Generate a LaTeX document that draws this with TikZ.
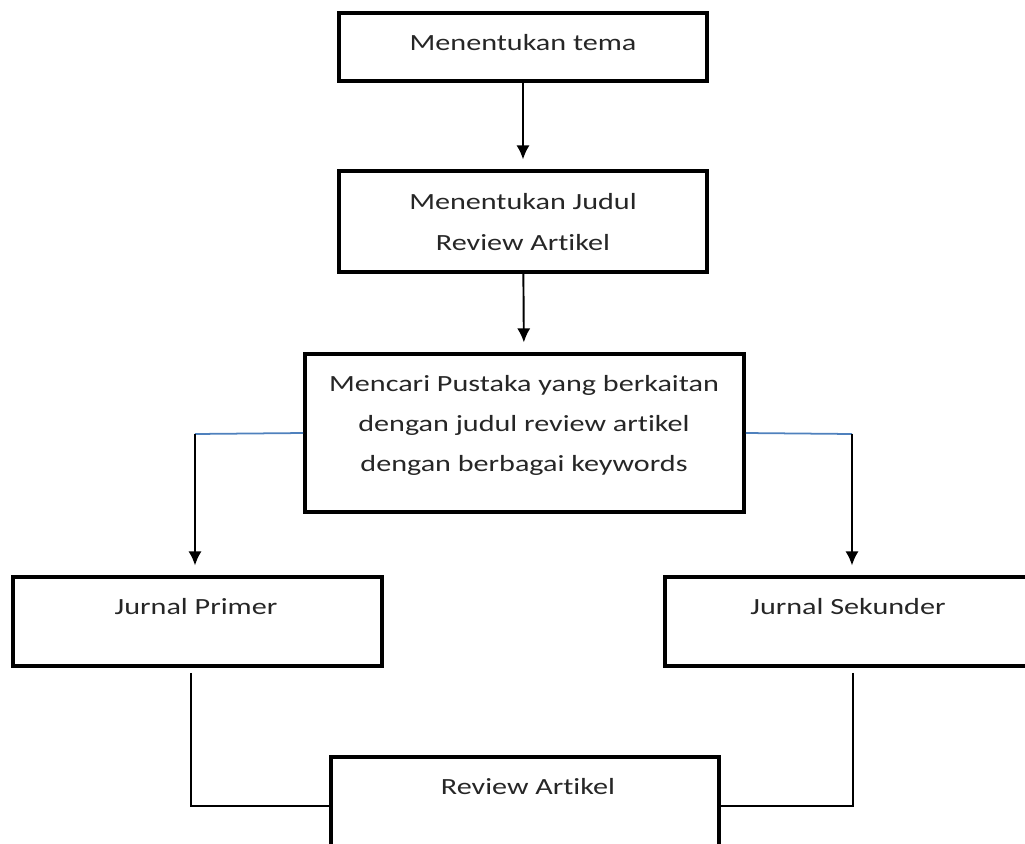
\documentclass[tikz,border=0pt]{standalone}
\usepackage{fontspec}
\setmainfont{Carlito}[FakeStretch=1.3,Ligatures=NoCommon]
\usepackage{xcolor}
\usepackage{tikz}
\usetikzlibrary{positioning, arrows.meta}
\definecolor{linkblue}{RGB}{79,129,189}

\begin{document}
\begin{tikzpicture}
                [
                x=0.02cm, y=-0.02cm,
                box/.style={rectangle,draw,line width=2.2pt,inner sep=0pt},
                boxtext/.style={font=\fontsize{13.2}{22.8}\selectfont,align=center,inner sep=0pt,text=black!85},
                edge/.style={->,line width=1.1pt,> = {Latex[length=8pt,width=7.5pt]},shorten >=5.5pt},
                side/.style={line width=1pt,color=linkblue},
                link/.style={line width=0.8pt}
                ]
            \useasboundingbox (0,0) rectangle (1025,843);
            % kotak
            \node[box,minimum width=7.36cm,minimum height=1.36cm] (tema) at (523,47) {};
            \node[box,minimum width=7.36cm,minimum height=2.02cm] (judul) at (523,221.5) {};
            \node[box,minimum width=8.78cm,minimum height=3.16cm] (pustaka) at (524.5,433) {};
            \node[box,minimum width=7.38cm,minimum height=1.78cm] (primer) at (197.5,621.5) {};
            \node[box,minimum width=7.38cm,minimum height=1.78cm] (sekunder) at (849.5,621.5) {};
            \node[box,minimum width=7.76cm,minimum height=1.78cm] (review) at (525,801.5) {};
            % teks
            \node[boxtext] (tematext) at (523,43) {Menentukan tema};
            \node[boxtext] (judultext) at (523,222) {Menentukan Judul\\Review Artikel};
            \node[boxtext] (pustakatext) at (524,425) {Mencari Pustaka yang berkaitan\\dengan judul review artikel\\dengan berbagai keywords};
            \node[boxtext] (primertext) at (196,607) {Jurnal Primer};
            \node[boxtext] (sekundertext) at (848,607) {Jurnal Sekunder};
            \node[boxtext] (reviewtext) at (528,787) {Review Artikel};
            % titik belok
            \coordinate (kiri) at (195,434);
            \coordinate (kanan) at (852,434);
            \coordinate (kiribawah) at (191,806);
            \coordinate (kananbawah) at (853,806);
            % panah
            \draw[edge] (tema) -- (judul);
            \draw[edge] (judul) -- (pustaka);
            \draw[side] (pustaka.west) -- (kiri);
            \draw[side] (pustaka.east) -- (kanan);
            \draw[edge] (kiri) -- (kiri |- primer.north);
            \draw[edge] (kanan) -- (kanan |- sekunder.north);
            \draw[link] ([yshift=-0.1cm]kiribawah |- primer.south) -- (kiribawah) -- (kiribawah -| review.west);
            \draw[link] ([yshift=-0.1cm]kananbawah |- sekunder.south) -- (kananbawah) -- (kananbawah -| review.east);
            \end{tikzpicture}
\end{document}
